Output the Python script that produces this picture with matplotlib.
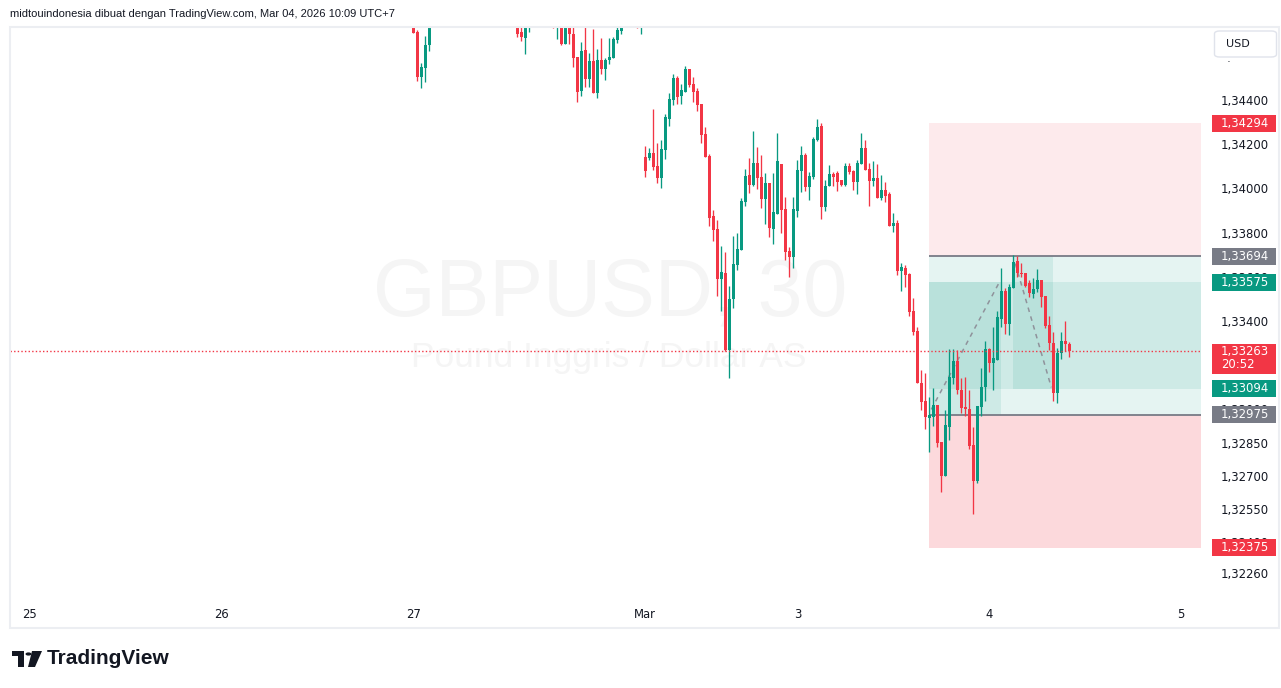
import numpy as np
import matplotlib.pyplot as plt
from matplotlib.patches import Rectangle, FancyBboxPatch, Polygon, Circle
from matplotlib.transforms import blended_transform_factory

W, H = 1281, 688

# GBPUSD 30 menit, bar 0 = 27 Feb 00:00 (UTC+7); None = bar di luar layar (di atas)
opens = ([1.34760, 1.34709, 1.34503, 1.34546, 1.34649] + [None] * 21 +
         [1.34760, 1.34709, 1.34682, 1.34740] + [None] * 5 +
         [1.34800, 1.34740, 1.34760, 1.34655, 1.34760, 1.34700, 1.34595, 1.34442, 1.34626, 1.34494,
          1.34576, 1.34430, 1.34581, 1.34539, 1.34581, 1.34591, 1.34672, 1.34714] + [None] * 3 +
         [1.34800, 1.34750,
          1.34142, 1.34139, 1.34159, 1.34101, 1.34048, 1.34175, 1.34315, 1.34400, 1.34500, 1.34418,
          1.34438, 1.34540, 1.34472, 1.34441, 1.34382, 1.34246, 1.34147, 1.33875, 1.33816, 1.33590,
          1.33617, 1.33269, 1.33501, 1.33653, 1.33721, 1.33938, 1.34060, 1.34015, 1.34115, 1.34052,
          1.33953, 1.34024, 1.33818, 1.33885, 1.34110, 1.33907, 1.33717, 1.33690, 1.33898, 1.34079,
          1.34151, 1.34006, 1.34052, 1.34219, 1.34282, 1.33916, 1.34011, 1.34065, 1.34070, 1.34038,
          1.34015, 1.34101, 1.34079, 1.34029, 1.34110, 1.34183, 1.34088, 1.34034, 1.34047, 1.33957,
          1.33993, 1.33975, 1.33830, 1.33843, 1.33628, 1.33640, 1.33613, 1.33445, 1.33356, 1.33121,
          1.33038, 1.32962, 1.32967, 1.33022, 1.32854, 1.32700, 1.32922, 1.33144, 1.33219, 1.33088,
          1.33012, 1.33002, 1.32840, 1.32677, 1.33012, 1.33101, 1.33273, 1.33211, 1.33225, 1.33410,
          1.33537, 1.33386, 1.33551, 1.33673, 1.33619, 1.33616, 1.33571, 1.33521, 1.33544, 1.33586,
          1.33512, 1.33382, 1.33299, 1.33073, 1.33257, 1.33310, 1.33296])
highs = ([1.34780, 1.34718, 1.34567, 1.34690, 1.34800] + [None] * 21 +
         [1.34780, 1.34750, 1.34780, 1.34800] + [None] * 5 +
         [1.34820, 1.34810, 1.34780, 1.34780, 1.34780, 1.34750, 1.34595, 1.34661, 1.34750, 1.34613,
          1.34721, 1.34629, 1.34679, 1.34591, 1.34679, 1.34685, 1.34750, 1.34780] + [None] * 3 +
         [1.34820, 1.34810,
          1.34192, 1.34183, 1.34358, 1.34204, 1.34219, 1.34337, 1.34433, 1.34518, 1.34509, 1.34472,
          1.34554, 1.34540, 1.34505, 1.34456, 1.34382, 1.34278, 1.34156, 1.33902, 1.33857, 1.33739,
          1.33712, 1.33558, 1.33785, 1.33798, 1.33957, 1.34088, 1.34138, 1.34260, 1.34187, 1.34151,
          1.34070, 1.34024, 1.34070, 1.34251, 1.34110, 1.33961, 1.33735, 1.33961, 1.34128, 1.34192,
          1.34160, 1.34074, 1.34233, 1.34314, 1.34296, 1.34038, 1.34106, 1.34074, 1.34079, 1.34038,
          1.34115, 1.34115, 1.34083, 1.34128, 1.34251, 1.34219, 1.34115, 1.34124, 1.34110, 1.34061,
          1.34029, 1.33984, 1.33889, 1.33857, 1.33662, 1.33653, 1.33617, 1.33503, 1.33374, 1.33180,
          1.33163, 1.33057, 1.33095, 1.33022, 1.32854, 1.32997, 1.33273, 1.33273, 1.33269, 1.33144,
          1.33146, 1.33088, 1.32922, 1.33017, 1.33189, 1.33310, 1.33279, 1.33374, 1.33445, 1.33640,
          1.33551, 1.33567, 1.33699, 1.33695, 1.33662, 1.33616, 1.33586, 1.33593, 1.33635, 1.33586,
          1.33512, 1.33423, 1.33349, 1.33279, 1.33349, 1.33400, 1.33304])
lows = ([1.34703, 1.34487, 1.34453, 1.34483, 1.34623] + [None] * 21 +
        [1.34686, 1.34668, 1.34610, 1.34709] + [None] * 5 +
        [1.34725, 1.34676, 1.34650, 1.34655, 1.34655, 1.34549, 1.34392, 1.34417, 1.34460, 1.34460,
         1.34430, 1.34410, 1.34516, 1.34489, 1.34562, 1.34591, 1.34660, 1.34700] + [None] * 3 +
        [1.34725, 1.34700,
         1.34053, 1.34128, 1.34083, 1.34026, 1.34003, 1.34134, 1.34284, 1.34377, 1.34382, 1.34382,
         1.34438, 1.34460, 1.34392, 1.34350, 1.34204, 1.34143, 1.33831, 1.33763, 1.33514, 1.33447,
         1.33265, 1.33143, 1.33460, 1.33631, 1.33721, 1.33920, 1.33979, 1.34011, 1.33997, 1.33913,
         1.33840, 1.33781, 1.33750, 1.33885, 1.33798, 1.33676, 1.33599, 1.33640, 1.33871, 1.33984,
         1.33988, 1.33948, 1.34043, 1.34214, 1.33862, 1.33898, 1.34011, 1.34011, 1.33988, 1.34011,
         1.34011, 1.34065, 1.33993, 1.33975, 1.34110, 1.34083, 1.33920, 1.34011, 1.33957, 1.33948,
         1.33938, 1.33830, 1.33803, 1.33608, 1.33537, 1.33555, 1.33424, 1.33337, 1.33118, 1.32997,
         1.32911, 1.32807, 1.32926, 1.32831, 1.32625, 1.32700, 1.32862, 1.33115, 1.33070, 1.32982,
         1.32971, 1.32821, 1.32527, 1.32668, 1.32970, 1.33039, 1.33171, 1.33088, 1.33225, 1.33374,
         1.33341, 1.33337, 1.33551, 1.33600, 1.33600, 1.33555, 1.33510, 1.33505, 1.33533, 1.33465,
         1.33367, 1.33269, 1.33039, 1.33030, 1.33227, 1.33266, 1.33238])
closes = ([1.34703, 1.34503, 1.34549, 1.34649, 1.34760] + [None] * 21 +
          [1.34700, 1.34686, 1.34760, 1.34780] + [None] * 5 +
          [1.34740, 1.34790, 1.34655, 1.34760, 1.34700, 1.34591, 1.34438, 1.34622, 1.34494, 1.34576,
           1.34430, 1.34581, 1.34539, 1.34581, 1.34595, 1.34676, 1.34718, 1.34760] + [None] * 3 +
          [1.34750, 1.34790,
           1.34080, 1.34159, 1.34098, 1.34048, 1.34178, 1.34323, 1.34405, 1.34500, 1.34415, 1.34445,
           1.34540, 1.34468, 1.34438, 1.34377, 1.34242, 1.34143, 1.33867, 1.33812, 1.33590, 1.33622,
           1.33269, 1.33500, 1.33658, 1.33726, 1.33943, 1.34056, 1.34015, 1.34115, 1.34047, 1.33953,
           1.34024, 1.33822, 1.33893, 1.34124, 1.33902, 1.33712, 1.33690, 1.33907, 1.34083, 1.34151,
           1.34006, 1.34056, 1.34224, 1.34278, 1.33916, 1.34011, 1.34065, 1.34052, 1.34029, 1.34015,
           1.34101, 1.34074, 1.34029, 1.34115, 1.34183, 1.34083, 1.34034, 1.34047, 1.33957, 1.33993,
           1.33966, 1.33830, 1.33843, 1.33628, 1.33644, 1.33610, 1.33442, 1.33352, 1.33118, 1.33035,
           1.32964, 1.32976, 1.33022, 1.32849, 1.32700, 1.32929, 1.33148, 1.33219, 1.33088, 1.33008,
           1.33000, 1.32834, 1.32677, 1.33017, 1.33103, 1.33273, 1.33210, 1.33233, 1.33418, 1.33537,
           1.33386, 1.33555, 1.33668, 1.33616, 1.33612, 1.33560, 1.33525, 1.33545, 1.33586, 1.33510,
           1.33377, 1.33299, 1.33073, 1.33257, 1.33310, 1.33295, 1.33263])

date_ticks = [-96, -48, 0, 58, 96, 144, 192]
date_labels = ['25', '26', '27', 'Mar', '3', '4', '5']
price_ticks = [1.346, 1.344, 1.342, 1.340, 1.338, 1.336, 1.334, 1.332, 1.330,
               1.3285, 1.327, 1.3255, 1.324, 1.3226]

last_price = 1.33263
countdown = '20:52'
badge_prices = [1.34294, 1.33694, 1.33575, 1.33094, 1.32975, 1.32375]
badge_colors = ['#f23645', '#787b86', '#089981', '#089981', '#787b86', '#f23645']

# alat posisi (long/short)
pos_start = 129
stop_upper = (1.33694, 1.34294)
target_zone = (1.32975, 1.33694)
inner_zone = (1.33094, 1.33575)
stop_lower = (1.32375, 1.32975)
fill_a = (129, 147, 1.32975, 1.33575)
fill_b = (150, 160, 1.33094, 1.33694)
dash_a_x, dash_a_y = [129.5, 146.5], [1.33000, 1.33575]
dash_b_x, dash_b_y = [150.5, 159.5], [1.33660, 1.33100]
level_lines = [1.33694, 1.32975]

GREEN = '#089981'
RED = '#f23645'
TEXT = '#131722'


def fx(x):
    return x / W


def fy(y):
    return 1 - y / H


def fmt(v):
    return f'{v:.5f}'.replace('.', ',')


fig = plt.figure(figsize=(W / 100, H / 100), dpi=100)
ax = fig.add_axes([fx(10), fy(600), fx(1201) - fx(10), fy(27.5) - fy(600)])
x0, x1 = -100.825, 196.925
y0, y1 = 1.321376, 1.347281
ax.set_xlim(x0, x1)
ax.set_ylim(y0, y1)
for s in ax.spines.values():
    s.set_visible(False)
upp = (y1 - y0) / (600 - 27.5)  # harga per piksel

# watermark
ax.text(fx(610), fy(316), 'GBPUSD, 30', transform=fig.transFigure, ha='center', va='baseline',
        fontsize=58, color='#f5f5f5', family='Liberation Sans', zorder=0)
ax.text(fx(609), fy(366.7), 'Pound Inggris / Dollar AS', transform=fig.transFigure, ha='center',
        va='baseline', fontsize=25.5, color='#f5f5f5', family='Liberation Sans', zorder=0)

# zona posisi
xr = x1
ax.add_patch(Rectangle((pos_start, stop_upper[0]), xr - pos_start, stop_upper[1] - stop_upper[0],
                       color=RED, alpha=0.1, lw=0, zorder=1))
ax.add_patch(Rectangle((pos_start, stop_lower[0]), xr - pos_start, stop_lower[1] - stop_lower[0],
                       color=RED, alpha=0.19, lw=0, zorder=1))
for lo, hi in (target_zone, inner_zone):
    ax.add_patch(Rectangle((pos_start, lo), xr - pos_start, hi - lo, color=GREEN, alpha=0.1, lw=0, zorder=1))
for a, b, lo, hi in (fill_a, fill_b):
    ax.add_patch(Rectangle((a, lo), b - a, hi - lo, color=GREEN, alpha=0.1, lw=0, zorder=1))
for lv in level_lines:
    ax.plot([pos_start, xr], [lv, lv], color='#787b86', lw=1.3, zorder=2, solid_capstyle='butt')
ax.plot(dash_a_x, dash_a_y, color='#8f929b', lw=1.1, ls=(0, (3, 3)), zorder=2)
ax.plot(dash_b_x, dash_b_y, color='#8f929b', lw=1.1, ls=(0, (3, 3)), zorder=2)

# candle
o = np.array(opens, dtype=float)
h = np.array(highs, dtype=float)
l = np.array(lows, dtype=float)
c = np.array(closes, dtype=float)
idx = np.arange(len(o))
ok = ~np.isnan(o)
for mask, col in ((ok & (c >= o), GREEN), (ok & (c < o), RED)):
    ax.vlines(idx[mask], l[mask], h[mask], color=col, lw=0.95, zorder=3)
    ax.bar(idx[mask], np.maximum(np.abs(c - o)[mask], upp), bottom=np.minimum(o, c)[mask],
           width=0.68, color=col, lw=0, zorder=3)

ax.axhline(last_price, color=RED, lw=1.0, ls=(0, (1, 1.6)), zorder=4)

# sumbu
ax.set_xticks(date_ticks, date_labels)
ax.tick_params(axis='x', length=0, pad=6, labelsize=8.4, labelcolor=TEXT)
ax.yaxis.tick_right()
ax.set_yticks(price_ticks, [fmt(v) for v in price_ticks])
ax.tick_params(axis='y', length=0, pad=14.4, labelsize=8.4, labelcolor=TEXT)

# label harga di sumbu kanan
trans = blended_transform_factory(fig.transFigure, ax.transData)
bx0, bx1 = fx(1211.5), fx(1276)
for p, col in zip(badge_prices, badge_colors):
    ax.add_patch(Rectangle((bx0, p - 8.5 * upp), bx1 - bx0, 17 * upp, transform=trans,
                           color=col, lw=0, clip_on=False, zorder=10))
    ax.text(fx(1221), p, fmt(p), transform=trans, color='white', va='center', ha='left',
            fontsize=8.4, clip_on=False, zorder=11)
ax.add_patch(Rectangle((bx0, last_price - 23 * upp), bx1 - bx0, 30.5 * upp, transform=trans,
                       color=RED, lw=0, clip_on=False, zorder=10))
ax.text(fx(1221), last_price, fmt(last_price), transform=trans, color='white', va='center',
        ha='left', fontsize=8.4, clip_on=False, zorder=11)
ax.text(fx(1221), last_price - 13.6 * upp, countdown, transform=trans, color='white', va='center',
        ha='left', fontsize=8.4, clip_on=False, zorder=11)

# tombol USD
ax.add_patch(Rectangle((fx(1204), fy(61)), fx(1278) - fx(1204), fy(28) - fy(61),
                       transform=fig.transFigure, color='white', lw=0, clip_on=False, zorder=12))
ax.add_patch(FancyBboxPatch((fx(1214.5), fy(57)), fx(1276.5) - fx(1214.5), fy(31) - fy(57),
                            boxstyle='round,pad=0,rounding_size=0.004', transform=fig.transFigure,
                            fc='white', ec='#e0e3eb', lw=1, clip_on=False, zorder=13))
ax.text(fx(1226), fy(44), 'USD', transform=fig.transFigure, va='center', ha='left',
        fontsize=8, color=TEXT, clip_on=False, zorder=14)

# bingkai panel
fig.add_artist(Rectangle((fx(10), fy(628)), fx(1279) - fx(10), fy(26.5) - fy(628),
                         transform=fig.transFigure, fill=False, ec='#eceef2', lw=1.5))

fig.text(fx(10), fy(14), 'midtouindonesia dibuat dengan TradingView.com, Mar 04, 2026 10:09 UTC+7',
         va='center', ha='left', fontsize=8, color=TEXT, family='Liberation Sans')

# logo TradingView
logo = '#131722'
fig.add_artist(Rectangle((fx(12), fy(656)), fx(24) - fx(12), fy(651) - fy(656), transform=fig.transFigure,
                         color=logo, lw=0))
fig.add_artist(Rectangle((fx(18), fy(667)), fx(24) - fx(18), fy(651) - fy(667), transform=fig.transFigure,
                         color=logo, lw=0))
fig.add_artist(Circle((fx(28.5), fy(654)), 3 / W, transform=fig.transFigure, color=logo, lw=0))
fig.add_artist(Polygon([(fx(32), fy(651)), (fx(42), fy(651)), (fx(35), fy(667)), (fx(28), fy(667))],
                       closed=True, transform=fig.transFigure, color=logo, lw=0))
fig.text(fx(47), fy(664.5), 'TradingView', va='baseline', ha='left', fontsize=15, fontweight='bold',
         color=logo, family='Liberation Sans')

fig.savefig('out.png', dpi=100, facecolor='white')
